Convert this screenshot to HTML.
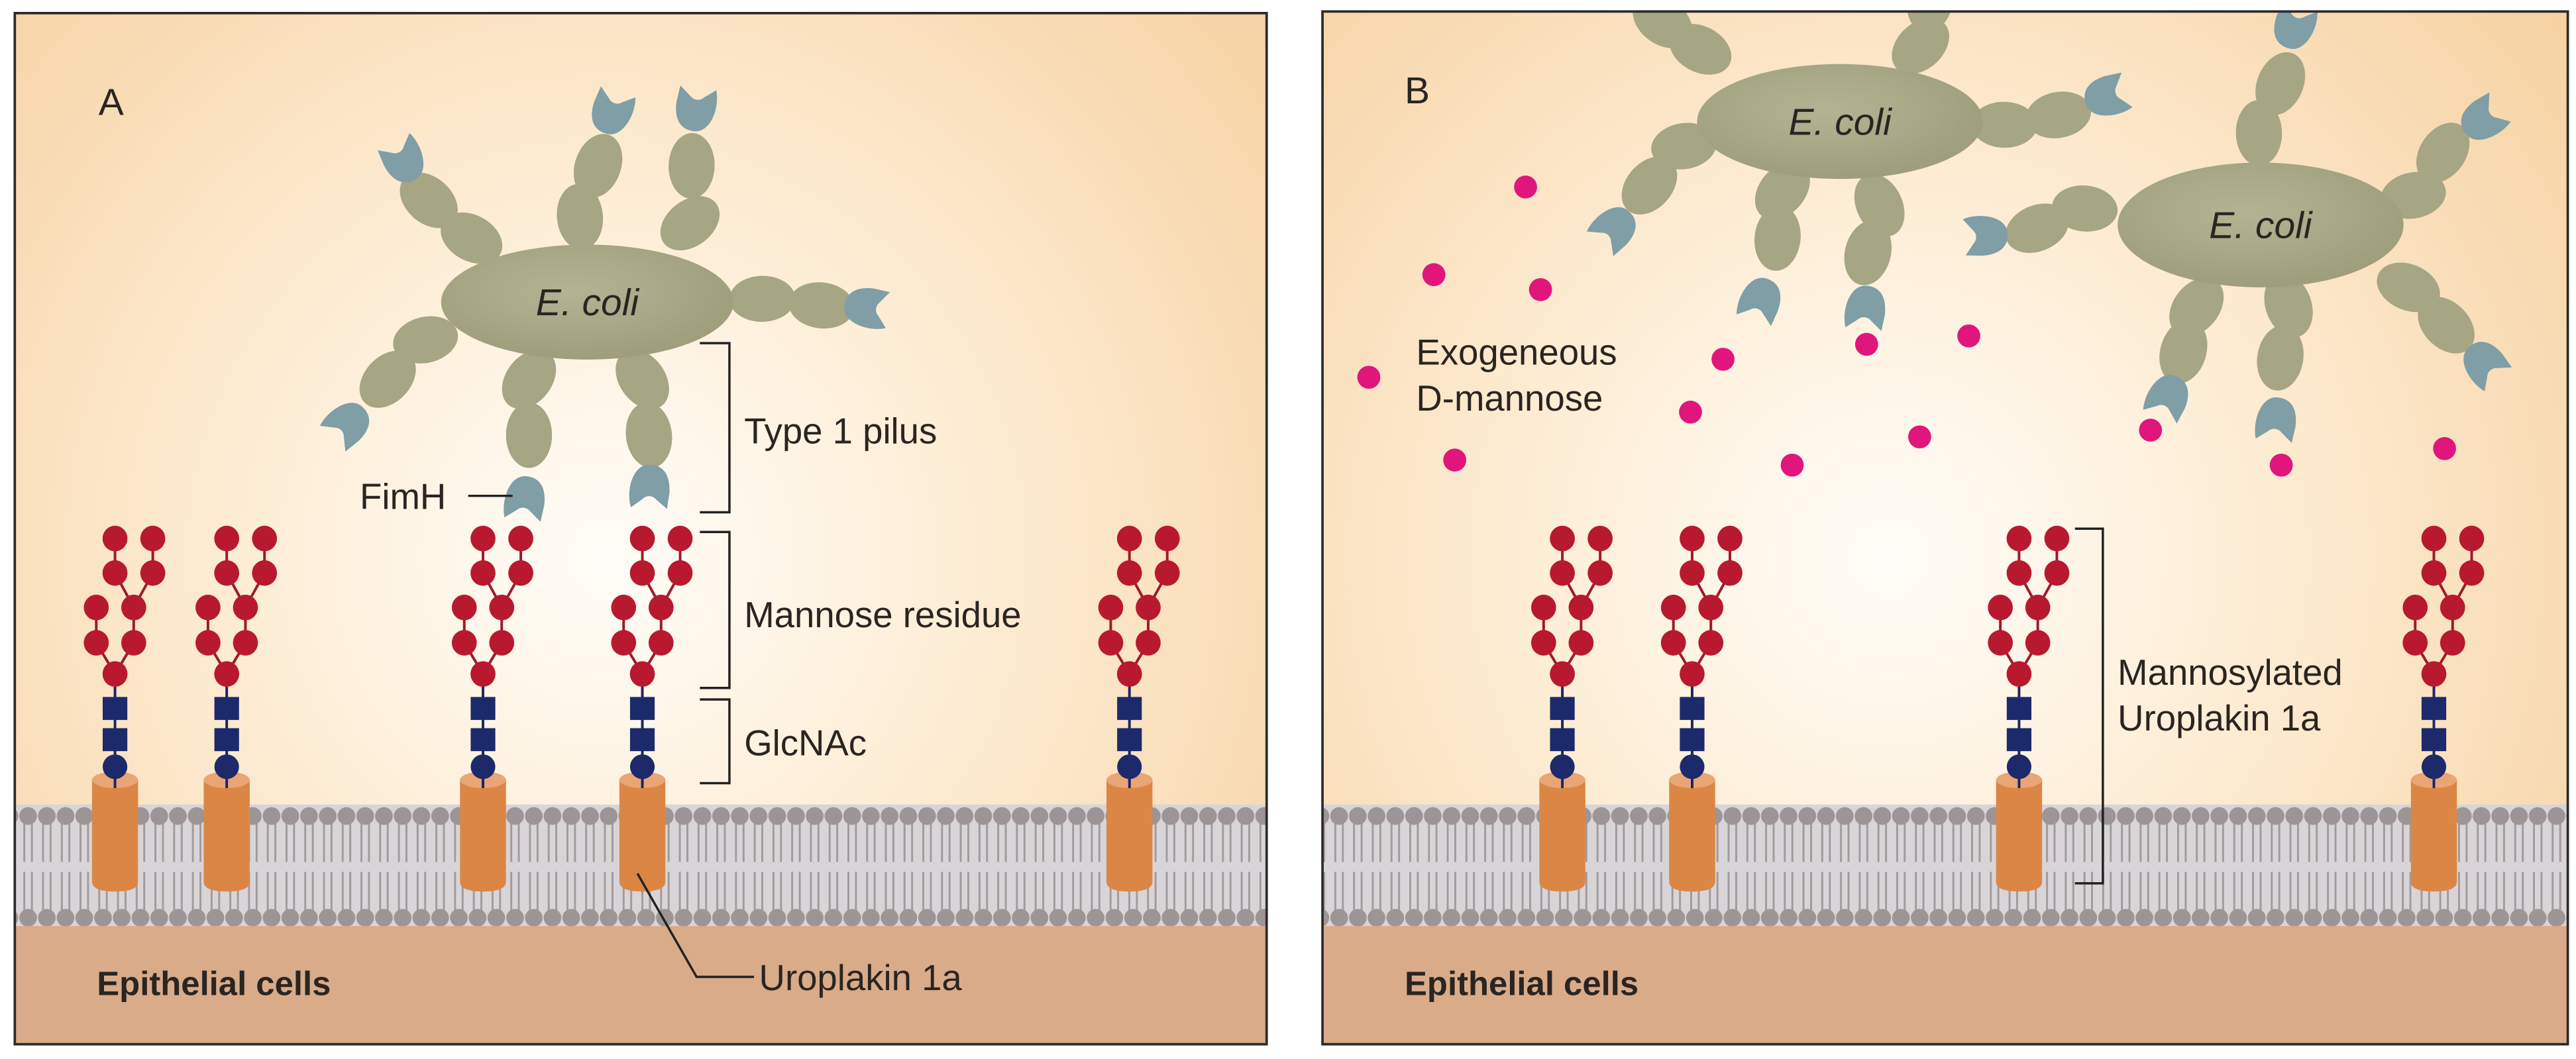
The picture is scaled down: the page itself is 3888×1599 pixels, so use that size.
<!DOCTYPE html>
<html><head><meta charset="utf-8">
<style>
html,body{margin:0;padding:0;background:#fff;}
svg{display:block;}
text{font-family:"Liberation Sans",Arial,sans-serif;fill:#2a2522;}
</style></head>
<body>
<svg id="s" xmlns="http://www.w3.org/2000/svg" width="3888" height="1599" viewBox="0 0 1568 645" preserveAspectRatio="none">
<defs>
<radialGradient id="gA" gradientUnits="userSpaceOnUse" cx="370" cy="340" r="520">
<stop offset="0" stop-color="#fffdf8"/><stop offset="0.45" stop-color="#fdecd3"/><stop offset="1" stop-color="#f6d2a3"/>
</radialGradient>
<radialGradient id="gB" gradientUnits="userSpaceOnUse" cx="1150" cy="340" r="520">
<stop offset="0" stop-color="#fffdf8"/><stop offset="0.45" stop-color="#fdecd3"/><stop offset="1" stop-color="#f6d2a3"/>
</radialGradient>
<radialGradient id="ec" cx="0.45" cy="0.4" r="0.6">
<stop offset="0" stop-color="#b4b393"/><stop offset="1" stop-color="#9f9e7c"/>
</radialGradient>
<pattern id="mem" patternUnits="userSpaceOnUse" x="0" y="0" width="11.4" height="645">
<line x1="3.4" y1="500" x2="3.4" y2="525" stroke="#a39a9c" stroke-width="1.2"/>
<line x1="8" y1="500" x2="8" y2="525" stroke="#a39a9c" stroke-width="1.2"/>
<line x1="3.4" y1="531" x2="3.4" y2="556" stroke="#a39a9c" stroke-width="1.2"/>
<line x1="8" y1="531" x2="8" y2="556" stroke="#a39a9c" stroke-width="1.2"/>
<circle cx="5.7" cy="497" r="5.4" fill="#9d9496"/>
<circle cx="5.7" cy="559" r="5.4" fill="#9d9496"/>
</pattern>
<clipPath id="cA"><rect x="9" y="8" width="762" height="628"/></clipPath>
<clipPath id="cB"><rect x="805" y="7" width="758" height="629"/></clipPath>
</defs>

<g clip-path="url(#cA)">
<rect x="9" y="8" width="762" height="628" fill="url(#gA)"/>
<rect x="9" y="490" width="762" height="74" fill="#d8d5d9"/>
<rect x="9" y="488" width="762" height="78" fill="url(#mem)"/>
<rect x="9" y="564" width="762" height="72" fill="#d9ab89"/>
<g id="layA"></g>
</g>
<g clip-path="url(#cB)">
<rect x="805" y="7" width="758" height="629" fill="url(#gB)"/>
<rect x="805" y="490" width="758" height="74" fill="#d8d5d9"/>
<rect x="805" y="488" width="758" height="78" fill="url(#mem)"/>
<rect x="805" y="564" width="758" height="72" fill="#d9ab89"/>
<g id="layB"></g>
</g>
<rect x="9" y="8" width="762" height="628" fill="none" stroke="#2b2b2b" stroke-width="1.5"/>
<rect x="805" y="7" width="758" height="629" fill="none" stroke="#2b2b2b" stroke-width="1.5"/>

<g fill="none" stroke="#222" stroke-width="1.4">
<polyline points="426,209 444,209 444,312 426,312"/>
<polyline points="426,324 444,324 444,419 426,419"/>
<polyline points="426,426 444,426 444,477 426,477"/>
<line x1="285" y1="302" x2="312" y2="302"/>
<polyline points="388,532 424,595 459,595"/>
<polyline points="1263,322 1280,322 1280,538 1263,538"/>
</g>

<g id="txt">
<text x="60" y="70" font-size="23">A</text>
<text x="855" y="63" font-size="23">B</text>
<text x="453" y="270" font-size="22">Type 1 pilus</text>
<text x="453" y="382" font-size="22">Mannose residue</text>
<text x="453" y="460" font-size="22">GlcNAc</text>
<text x="219" y="310" font-size="22">FimH</text>
<text x="462" y="603" font-size="22">Uroplakin 1a</text>
<text x="59" y="606" font-size="20.5" font-weight="bold">Epithelial cells</text>
<text x="855" y="606" font-size="20.5" font-weight="bold">Epithelial cells</text>
<text x="862" y="222" font-size="22">Exogeneous</text>
<text x="862" y="250" font-size="22">D-mannose</text>
<text x="1289" y="417" font-size="22">Mannosylated</text>
<text x="1289" y="445" font-size="22">Uroplakin 1a</text>
</g>
</svg>
<script>
(function(){
var NS="http://www.w3.org/2000/svg";
function el(parent,tag,attrs){var e=document.createElementNS(NS,tag);for(var k in attrs)e.setAttribute(k,attrs[k]);parent.appendChild(e);return e;}
function glycan(g,cx){
  var R="#9e1a2b";
  var L=[[cx,328,cx,349],[cx+23,328,cx+23,349],[cx,349,cx+11.4,370],[cx+23,349,cx+11.4,370],
         [cx-11.4,370,cx-11.4,391.5],[cx+11.4,370,cx+11.4,391.5],[cx-11.4,391.5,cx,410.5],[cx+11.4,391.5,cx,410.5]];
  L.forEach(function(l){el(g,"line",{x1:l[0],y1:l[1],x2:l[2],y2:l[3],stroke:R,"stroke-width":1.6});});
  el(g,"path",{d:"M"+(cx-14)+",475 L"+(cx-14)+",537 Q"+(cx-14)+",543 "+cx+",543 Q"+(cx+14)+",543 "+(cx+14)+",537 L"+(cx+14)+",475 Z",fill:"#dc8645"});
  el(g,"ellipse",{cx:cx,cy:475,rx:14,ry:5,fill:"#e9a574"});
  el(g,"line",{x1:cx,y1:410,x2:cx,y2:480,stroke:"#1b2766","stroke-width":1.6});
  var C=[[cx,328],[cx+23,328],[cx,349],[cx+23,349],[cx-11.4,370],[cx+11.4,370],[cx-11.4,391.5],[cx+11.4,391.5],[cx,410.5]];
  C.forEach(function(c){el(g,"ellipse",{cx:c[0],cy:c[1],rx:7.6,ry:7.8,fill:"#b8192f"});});
  el(g,"rect",{x:cx-7.5,y:424.5,width:15,height:14,fill:"#1c2a6b"});
  el(g,"rect",{x:cx-7.5,y:443.5,width:15,height:14,fill:"#1c2a6b"});
  el(g,"ellipse",{cx:cx,cy:467,rx:7.5,ry:7.5,fill:"#1c2a6b"});
}
function pilus(g,body,pts){
  var prev=body;
  for(var i=0;i<pts.length;i++){
    var p=pts[i];var a=Math.atan2(p[1]-prev[1],p[0]-prev[0])*180/Math.PI;
    if(i<pts.length-1){
      el(g,"ellipse",{cx:0,cy:0,rx:20,ry:14,fill:"#a6a584",transform:"translate("+p[0]+","+p[1]+") rotate("+a+")"});
    } else {
      el(g,"path",{d:"M-14,0 C-14,-10 -6,-13 3,-12.5 L13,-11 L6,-3 Q4,1 7,4 L12,11 C2,14 -14,10 -14,0 Z",fill:"#7f9ea6",transform:"translate("+p[0]+","+p[1]+") rotate("+a+")"});
    }
    prev=p;
  }
}
function ecoli(g,cx,cy,rx,ry,pil){
  pil.forEach(function(p){pilus(g,[cx,cy],p);});
  el(g,"ellipse",{cx:cx,cy:cy,rx:rx,ry:ry,fill:"url(#ec)"});
  var t=el(g,"text",{x:cx,y:cy+8,"font-size":23,"font-style":"italic","text-anchor":"middle"});t.textContent="E. coli";
}
var A=document.getElementById("layA"),B=document.getElementById("layB");
[70,138,294,391,687.5].forEach(function(x){glycan(A,x);});
[951,1030,1229,1481.5].forEach(function(x){glycan(B,x);});
ecoli(A,357.5,184,89,35,[
 [[287,145],[261,122],[246,97]],
 [[353,132],[364,101],[373,68]],
 [[420,136],[421,101],[424,66]],
 [[464,182],[500,186],[528,188]],
 [[259,207],[236,231],[211,258]],
 [[322,231],[322,265],[319,304]],
 [[391,231],[395,265],[395,297]]
]);
ecoli(B,1120,74,87,35,[
 [[1035,30],[1012,13],[995,-12]],
 [[1169,28],[1175,0],[1178,-25]],
 [[1220,76],[1253,70],[1283,59]],
 [[1025,89],[1004,113],[982,139]],
 [[1085,116],[1082,145],[1071,183]],
 [[1144,125],[1137,154],[1135,188]]
]);
ecoli(B,1376,137,87,38,[
 [[1375,81],[1388,51],[1397,16]],
 [[1469,119],[1487,93],[1512,73]],
 [[1269,127],[1240,139],[1208,143]],
 [[1337,187],[1329,214],[1319,242]],
 [[1393,186],[1388,218],[1385,256]],
 [[1466,175],[1489,198],[1512,222]]
]);
[[928.6,113.9],[872.8,167.3],[937.7,176.4],[833.2,229.8],[1048.8,218.8],[1136.2,209.7],[1198.4,204.6],[1029,251],[885.5,280.2],[1090.9,283.3],[1168.5,266.1],[1309,262],[1388.6,283.3],[1488,273.2]].forEach(function(d){
 el(B,"circle",{cx:d[0],cy:d[1],r:7,fill:"#e0167c"});
});
})();
</script>
</body></html>
